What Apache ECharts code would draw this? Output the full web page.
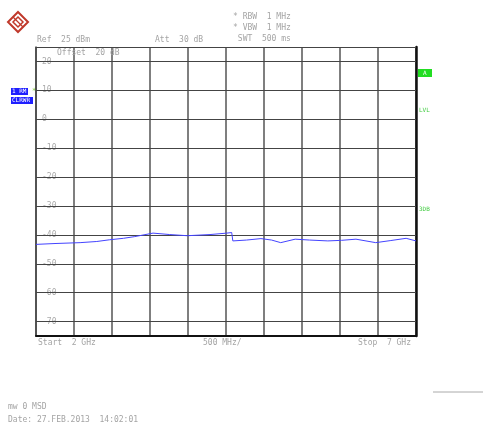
<!DOCTYPE html>
<html><head><meta charset="utf-8">
<script src="https://cdn.jsdelivr.net/npm/echarts@6/dist/echarts.min.js"></script>
<style>html,body{margin:0;padding:0;background:#fff}#c{width:483px;height:428px}</style>
</head><body><div id="c"></div>
<script>
const freqMHz = [2000, 2250, 2580, 2800, 2970, 3150, 3300, 3540, 3760, 3990, 4290, 4510, 4575, 4590, 4770, 4960, 5100, 5220, 5410, 5600, 5840, 6020, 6210, 6470, 6660, 6870, 7000];
const levelDbm = [-43.3, -43.0, -42.7, -42.3, -41.7, -41.2, -40.6, -39.4, -39.9, -40.3, -39.9, -39.4, -39.2, -42.1, -41.8, -41.3, -41.8, -42.7, -41.5, -41.8, -42.1, -41.9, -41.5, -42.7, -42.0, -41.2, -42.1];
const yTicks = [20, 10, 0, -10, -20, -30, -40, -50, -60, -70];
const yMin = -75, yMax = 25;
const xMin = 2000, xMax = 7000, xStep = 500;

const chart = echarts.init(document.getElementById('c'), null, {renderer: 'canvas'});
const F = 'DejaVu Sans Mono';
const txtGrey = '#a4a4a4';
function t(x, y, s) {
  return {type: 'text', x: x, y: y, z: 10, style: {text: s, fill: txtGrey, font: '8px "' + F + '"', textVerticalAlign: 'middle'}};
}
const graphics = [
  {type: 'polygon', shape: {points: [[18, 12], [28, 22], [18, 32], [8, 22]]}, style: {fill: 'none', stroke: '#c0392b', lineWidth: 2}},
  {type: 'polygon', shape: {points: [[18, 17], [23, 22], [18, 27], [13, 22]]}, style: {fill: 'none', stroke: '#c0392b', lineWidth: 1.5}},
  {type: 'line', shape: {x1: 13, y1: 17, x2: 23, y2: 27}, style: {stroke: '#c0392b', lineWidth: 1.2}},
  t(37, 40, 'Ref  25 dBm'),
  t(155, 40, 'Att  30 dB'),
  t(233, 17, '* RBW  1 MHz'),
  t(233, 28, '* VBW  1 MHz'),
  t(233, 39, ' SWT  500 ms'),
  t(57, 53, 'Offset  20 dB'),
  {type: 'rect', shape: {x: 11, y: 88, width: 17, height: 7}, style: {fill: '#1f1fff'}},
  {type: 'text', x: 12, y: 91.5, style: {text: '1 RM', fill: '#fff', font: '6px "' + F + '"', textVerticalAlign: 'middle'}},
  {type: 'rect', shape: {x: 11, y: 97, width: 22, height: 7}, style: {fill: '#1f1fff'}},
  {type: 'text', x: 12, y: 100.5, style: {text: 'CLRWR', fill: '#fff', font: '6px "' + F + '"', textVerticalAlign: 'middle'}},
  {type: 'text', x: 32, y: 91, style: {text: '*', fill: '#88cc44', font: '7px "' + F + '"', textVerticalAlign: 'middle'}},
  {type: 'rect', shape: {x: 418, y: 69, width: 14, height: 8}, style: {fill: '#22dd22'}},
  {type: 'text', x: 423, y: 73, style: {text: 'A', fill: '#fff', font: '6px "' + F + '"', textVerticalAlign: 'middle'}},
  {type: 'text', x: 419, y: 110, style: {text: 'LVL', fill: '#44cc44', font: '6px "' + F + '"', textVerticalAlign: 'middle'}},
  {type: 'text', x: 419, y: 209, style: {text: '3DB', fill: '#44cc44', font: '6px "' + F + '"', textVerticalAlign: 'middle'}},
  t(38, 343, 'Start  2 GHz'),
  t(203, 343, '500 MHz/'),
  t(358, 343, 'Stop  7 GHz'),
  t(8, 407, 'mw 0 MSD'),
  t(8, 420, 'Date: 27.FEB.2013  14:02:01'),
  {type: 'line', shape: {x1: 433, y1: 392, x2: 483, y2: 392}, style: {stroke: '#aaa', lineWidth: 1}}
];

chart.setOption({
  animation: false,
  backgroundColor: '#fff',
  grid: {left: 36, right: 67, top: 47, bottom: 92, show: false},
  xAxis: {
    type: 'value', min: xMin, max: xMax, interval: xStep,
    axisLine: {show: true, onZero: false, lineStyle: {color: '#111', width: 2}},
    axisTick: {show: false}, axisLabel: {show: false},
    splitLine: {show: true, lineStyle: {color: '#555', width: 1.5}}
  },
  yAxis: [{
    type: 'value', min: yMin, max: yMax,
    axisLine: {show: true, onZero: false, lineStyle: {color: '#444', width: 1.5}},
    axisTick: {show: false, customValues: yTicks},
    axisLabel: {show: true, inside: true, customValues: yTicks, margin: 6, color: '#aaa', fontSize: 8, fontFamily: F,
      formatter: v => String(v)},
    splitLine: {show: false}
  }, {
    type: 'value', min: yMin, max: yMax, position: 'right',
    axisLine: {show: true, onZero: false, lineStyle: {color: '#111', width: 2.5}},
    axisTick: {show: false}, axisLabel: {show: false}, splitLine: {show: false}
  }],
  series: [{
    type: 'line', yAxisIndex: 0, data: [], z: 1, silent: true,
    markLine: {
      silent: true, symbol: 'none', animation: false, z: 1,
      label: {show: false},
      lineStyle: {color: '#444', width: 1, type: 'solid'},
      data: [{yAxis: yMax}].concat(yTicks.map(v => ({yAxis: v})))
    }
  }, {
    type: 'line', yAxisIndex: 0,
    data: freqMHz.map((f, i) => [f, levelDbm[i]]),
    showSymbol: false, symbol: 'none', smooth: false,
    lineStyle: {color: '#4444ff', width: 1},
    z: 8
  }],
  graphic: graphics
});
</script>
</body></html>
